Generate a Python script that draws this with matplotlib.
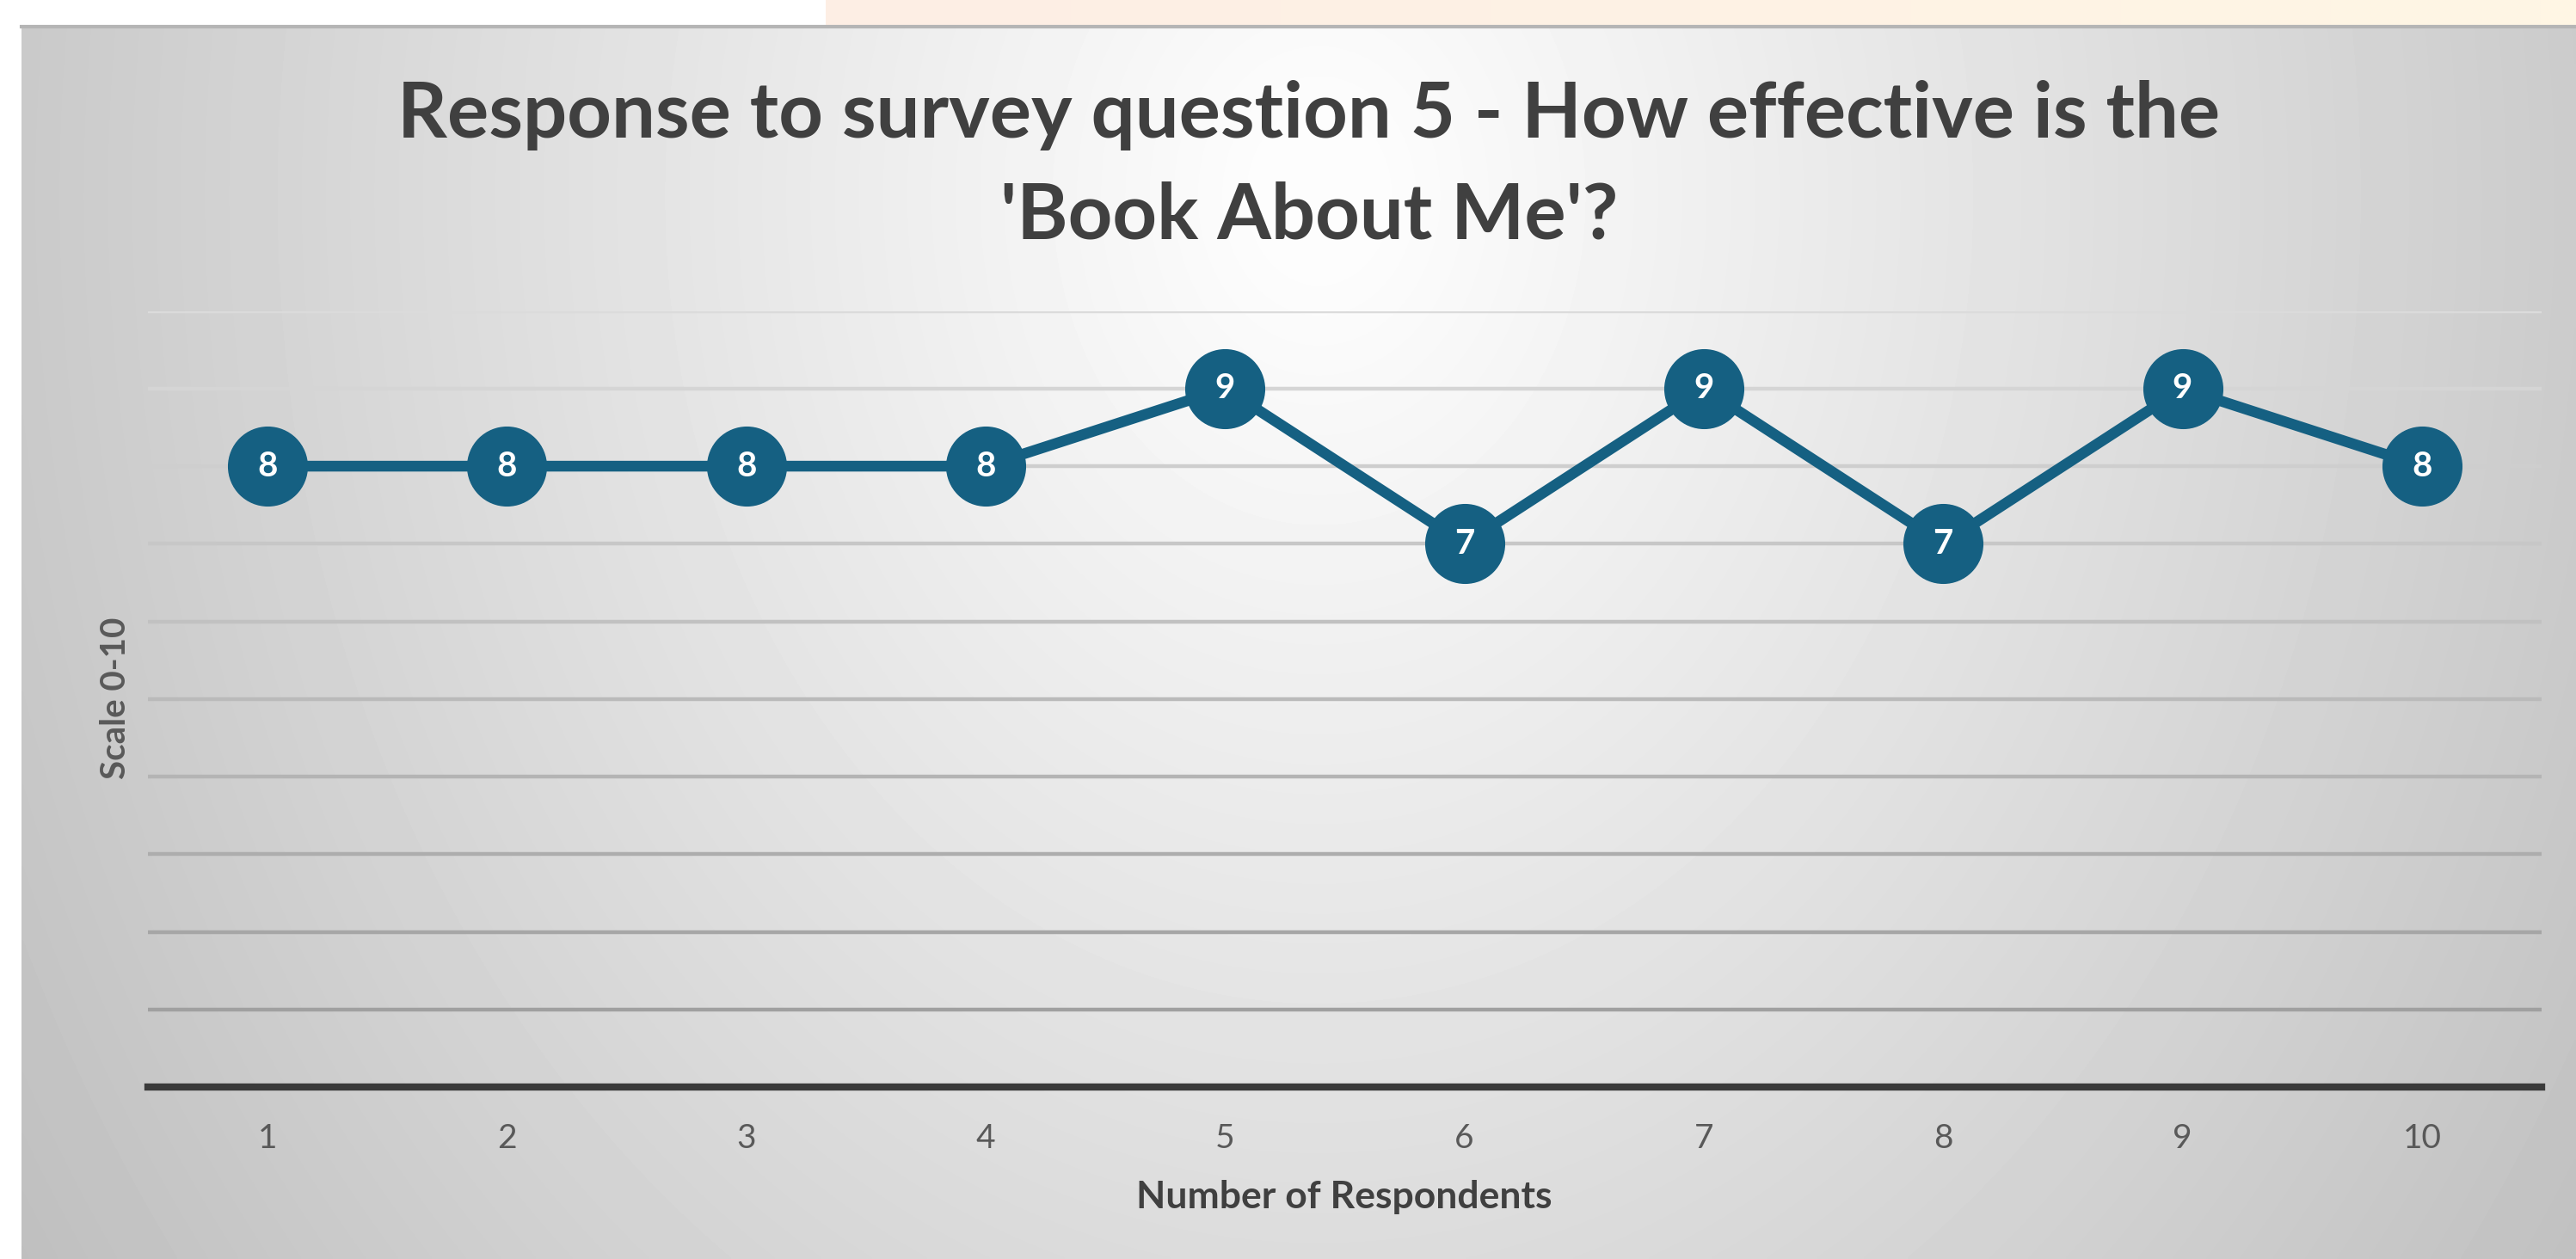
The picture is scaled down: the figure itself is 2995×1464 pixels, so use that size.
import matplotlib
matplotlib.use("Agg")
import matplotlib.pyplot as plt
import numpy as np

# survey data: one score per respondent
respondents = [1, 2, 3, 4, 5, 6, 7, 8, 9, 10]
scores = [8, 8, 8, 8, 9, 7, 9, 7, 9, 8]
x_labels = ["1", "2", "3", "4", "5", "6", "7", "8", "9", "10"]
y_ticks = [0, 1, 2, 3, 4, 5, 6, 7, 8, 9, 10]

title_lines = ["Response to survey question 5 - How effective is the", "'Book About Me'?"]

colors = {"blue": "#156082", "dark": "#404040", "grey": "#595959", "axis": "#3a3a3a"}

plt.rcParams['font.family'] = ['Lato', 'DejaVu Sans']

W, H = 2995, 1464
fig = plt.figure(figsize=(W / 100, H / 100), dpi=100)

# background (slide strip + grey radial gradient of the chart area)
bg = fig.add_axes([0, 0, 1, 1], zorder=-10)
bg.set_xlim(0, W)
bg.set_ylim(H, 0)
bg.axis("off")

yy, xx = np.mgrid[0:H:4, 0:W:4]
d = np.sqrt(((xx - 1520) / 1600.0) ** 2 + ((yy - 200) / 2000.0) ** 2)
shade = np.clip(1.0 - 0.22 * d, 0.74, 0.99)
bg.imshow(shade, cmap="gray", vmin=0, vmax=1, extent=[25, W, H, 30], aspect="auto", interpolation="bilinear")

strip = np.zeros((1, 50, 3))
c1 = np.array([0xfd, 0xee, 0xe4]) / 255.0
c2 = np.array([0xff, 0xf6, 0xe4]) / 255.0
for i in range(50):
    strip[0, i] = c1 + (c2 - c1) * i / 49.0
bg.imshow(strip, extent=[960, W, 30, 0], aspect="auto")
bg.plot([25, W], [31, 31], color="#b5b5b5", lw=3)

# main axes
ax = fig.add_axes([172 / W, (H - 1264) / H, (2955 - 172) / W, (1264 - 361.6) / H])
ax.patch.set_alpha(0)
ax.set_xlim(0.5, 10.5)
ax.set_ylim(0, 10)

ax.set_yticks(y_ticks)
ax.set_yticklabels([])
ax.yaxis.grid(True, lw=3.2)
ax.set_axisbelow(True)
shades = np.linspace(0.6, 0.86, len(y_ticks))
for gl, s in zip(ax.get_ygridlines(), shades):
    gl.set_color(str(s))

ax.plot(respondents, scores, color=colors["blue"], lw=9, marker="o", ms=66,
        mfc=colors["blue"], mec=colors["blue"], mew=1, clip_on=False, zorder=3)
for x, y in zip(respondents, scores):
    ax.text(x, y, str(y), ha="center", va="center", color="white", fontsize=29,
            fontweight="bold", zorder=4)

ax.set_xticks(respondents)
ax.set_xticklabels(x_labels)
ax.tick_params(axis="x", length=0, pad=30, labelsize=28, labelcolor=colors["grey"])
ax.tick_params(axis="y", length=0)

for side in ["top", "right", "left"]:
    ax.spines[side].set_visible(False)
ax.spines["bottom"].set_color(colors["axis"])
ax.spines["bottom"].set_linewidth(6)

# labels
fig.text(1563 / W, (H - 1405) / H, "Number of Respondents", ha="center", va="baseline",
         fontsize=32, fontweight="bold", color=colors["dark"])
fig.text(134 / W, (H - 812) / H, "Scale 0-10", rotation=90, ha="center", va="center",
         fontsize=29, fontweight="bold", color=colors["grey"])

fig.text(1522 / W, (H - 160) / H, title_lines[0], ha="center", va="baseline",
         fontsize=65, fontweight="bold", color=colors["dark"])
fig.text(1522 / W, (H - 277) / H, title_lines[1], ha="center", va="baseline",
         fontsize=65, fontweight="bold", color=colors["dark"])

fig.savefig("out.png", dpi=100)
